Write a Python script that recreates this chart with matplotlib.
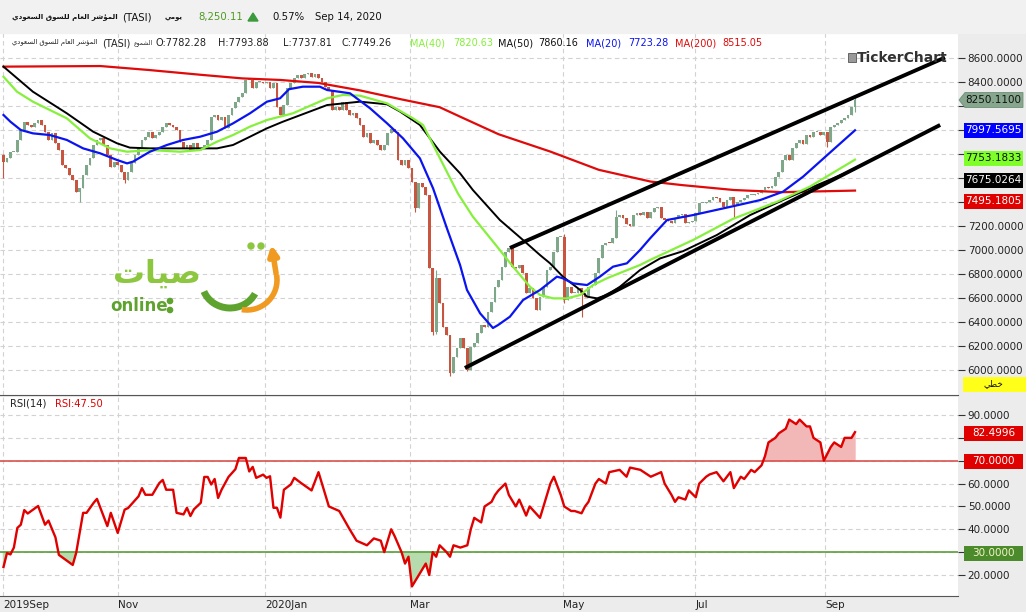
import matplotlib
matplotlib.use('Agg')
import matplotlib.pyplot as plt
from matplotlib.patches import Rectangle, Polygon, Arc, Circle
import numpy as np

W, H = 1026, 612

# daily closes of TASI (mid Sep 2019 .. 14 Sep 2020)
closes = [
    7736, 7764, 7820, 7820, 7917, 8000, 8069, 8042, 8028, 8055,
    8083, 8042, 7986, 7917, 7972, 7889, 7833, 7708, 7680, 7625,
    7583, 7486, 7514, 7625, 7708, 7764, 7875, 7917, 7930, 7875,
    7792, 7694, 7736, 7708, 7653, 7583, 7653, 7722, 7792, 7861,
    7917, 7944, 7986, 7930, 7958, 7986, 8028, 8055, 8042, 8028,
    8000, 7903, 7847, 7875, 7833, 7889, 7833, 7847, 7875, 7917,
    8111, 8125, 8083, 8111, 8014, 8125, 8180, 8236, 8278, 8306,
    8417, 8417, 8347, 8403, 8403, 8389, 8403, 8347, 8389, 8194,
    8125, 8208, 8347, 8389, 8430, 8458, 8430, 8464, 8472, 8444,
    8464, 8430, 8403, 8361, 8333, 8167, 8194, 8167, 8236, 8167,
    8125, 8139, 8097, 8042, 7944, 7972, 7889, 7917, 7875, 7833,
    7875, 7972, 8008, 7980, 7750, 7708, 7750, 7681, 7569, 7347,
    7556, 7528, 7458, 6847, 6319, 6764, 6555, 6361, 6292, 5972,
    6111, 6180, 6264, 6180, 6000, 6194, 6222, 6306, 6375, 6361,
    6486, 6569, 6694, 6750, 6861, 6986, 7014, 6861, 6847, 6875,
    6806, 6639, 6681, 6597, 6500, 6611, 6694, 6833, 6861, 6986,
    7111, 7111, 6583, 6694, 6639, 6640, 6680, 6639, 6611, 6694,
    6708, 6806, 6931, 7042, 7060, 7055, 7100, 7277, 7290, 7270,
    7220, 7200, 7290, 7305, 7290, 7320, 7264, 7319, 7347, 7361,
    7264, 7250, 7240, 7222, 7264, 7291, 7300, 7222, 7230, 7240,
    7305, 7389, 7389, 7403, 7416, 7444, 7430, 7403, 7361, 7416,
    7444, 7375, 7400, 7416, 7430, 7458, 7458, 7465, 7472, 7500,
    7527, 7514, 7530, 7611, 7652, 7750, 7791, 7750, 7847, 7889,
    7916, 7880, 7958, 7944, 7986, 7986, 7958, 7986, 7903, 8027,
    8041, 8055, 8083, 8097, 8125, 8194, 8250.11,
]
first_open = 7790
# visible wicks: bar -> (low, high)
wicks = {0: (7600, 7800), 22: (7400, 7514), 35: (7555, 7653), 119: (7320, 7569),
         124: (6290, 6847), 125: (6300, 6830), 129: (5950, 6292), 134: (5990, 6180),
         162: (6560, 7130), 167: (6440, 6680), 177: (7100, 7330), 211: (7270, 7416),
         238: (7860, 7986), 246: (8150, 8265)}

# moving averages (bar, value)
ma20_bar = [0, 2, 5, 8.5, 13.4, 18.3, 23, 27.9, 32.8, 35.7, 37.4, 42.3, 47.2, 51.9, 56.8,
            61.7, 66.3, 71.2, 76.1, 79.9, 82.5, 86.5, 91.4, 93.5, 100.1, 105.9, 110.8,
            115.4, 120.3, 124.1, 128.1, 131.9, 133.9, 137.7, 141.4, 142.9, 146.3, 150.1,
            155, 159.9, 161.6, 164.5, 168.6, 172.3, 176.1, 180.1, 183.9, 186.8, 191.7,
            199.2, 210.8, 218.6, 225.2, 231, 239.6, 246]
ma20_val = [8125, 8069, 8000, 7972, 7958, 7917, 7847, 7806, 7750, 7722, 7736, 7819, 7875,
            7917, 7944, 7986, 8055, 8139, 8236, 8264, 8340, 8361, 8361, 8333, 8306, 8181,
            8056, 7931, 7764, 7514, 7181, 6875, 6667, 6472, 6350, 6375, 6444, 6583, 6667,
            6778, 6764, 6722, 6708, 6778, 6861, 6889, 7000, 7097, 7250, 7291, 7365, 7416,
            7486, 7611, 7833, 7997.57]
ma40_bar = [0, 3.9, 8.5, 18.3, 25, 30.8, 35.7, 42.3, 51, 56.8, 61.7, 66.3, 71.2, 76.1,
            83.6, 93.5, 98.1, 103, 110.8, 118.3, 121.2, 126.1, 131.3, 135.6, 142.6, 147.2,
            152.1, 155, 158.8, 162.8, 166.6, 170.3, 174.3, 179, 183.9, 186.8, 199.2,
            210.8, 223.5, 232.9, 246]
ma40_val = [8444, 8319, 8236, 8097, 7930, 7847, 7819, 7833, 7819, 7833, 7903, 7958, 8028,
            8083, 8139, 8264, 8292, 8286, 8222, 8097, 8042, 7764, 7470, 7278, 7028, 6861,
            6694, 6625, 6597, 6597, 6625, 6708, 6764, 6819, 6875, 6917, 7083, 7260, 7402,
            7527, 7753.18]
ma50_bar = [0, 8.5, 18.3, 25.9, 32.8, 36.5, 42.3, 51.9, 61.7, 66.3, 71.2, 76.1, 80.7,
            93.5, 103, 110.8, 114.6, 120.3, 126.1, 131.9, 135.6, 143.4, 150.1, 155,
            157.9, 161.6, 166.6, 168.6, 171.5, 174.3, 178.1, 183.9, 189.7, 196.3, 206.1,
            215.7, 225.2, 235, 246]
ma50_val = [8528, 8319, 8139, 7986, 7889, 7853, 7847, 7847, 7847, 7875, 7944, 8014, 8069,
            8208, 8236, 8214, 8153, 8042, 7819, 7639, 7500, 7250, 7083, 6958, 6889, 6778,
            6667, 6611, 6597, 6625, 6694, 6833, 6930, 6990, 7125, 7291, 7416, 7540, 7675.03]
ma200_bar = [0, 28, 42, 57, 69, 80, 91, 103, 115, 126, 132, 143, 158, 172, 187, 196,
             211, 225, 246]
ma200_val = [8528, 8533, 8500, 8460, 8430, 8417, 8392, 8330, 8255, 8190, 8110, 7965,
             7820, 7668, 7570, 7541, 7500, 7482, 7495.18]

# channel lines drawn on the chart (bar, price)
upper_line = ([146.3, 272.0], [7017, 8604])
lower_line = ([133.3, 270.6], [6017, 8042])

# RSI(14) (bar, value)
rsi_pts = [(0, 23.5), (1, 29.6), (2, 29), (3, 32), (4, 40.6), (5, 42), (6, 48.4), (7, 46.9),
           (10, 50.2), (12, 42), (13, 43.8), (15, 36.5), (16, 28.8), (18, 26.6), (20, 24.4),
           (21, 29.7), (23, 47.2), (24, 47.2), (26, 51.5), (27, 53.3), (30, 41.4), (31, 47.2),
           (33, 38.4), (35, 48.6), (36, 49.3), (39, 54.4), (40, 58), (41, 55.1), (43, 55.1),
           (45, 60.2), (46, 61.6), (47, 57.3), (49, 57.3), (50, 47.2), (52, 46.5), (53, 49.4),
           (54, 45.8), (55, 48.7), (57, 51.6), (58, 62.9), (59, 62.9), (60, 59.6), (61, 62),
           (62, 53.7), (63, 57.3), (65, 62.9), (67, 66.3), (68, 71.2), (70, 71.2), (71, 65.3),
           (72, 67.3), (73, 62.5), (75, 63.9), (76, 62.5), (77, 63.2), (78, 49.4), (79, 49.4),
           (80, 45.1), (81, 57.3), (83, 59.6), (84, 62.5), (86, 60.2), (89, 57), (91, 65),
           (93, 55), (94, 50), (97, 48), (100, 40), (102, 35), (105, 33), (107, 36), (109, 35),
           (110, 30), (112, 40), (113, 37), (115, 30), (116, 25), (117, 28), (118, 15),
           (120, 20), (122, 25), (123, 20), (124, 30), (125, 28), (126, 33), (128, 30),
           (129, 28), (130, 33), (132, 32), (134, 33), (135, 40), (136, 45), (138, 43),
           (139, 50), (141, 52), (142, 55), (143, 57), (145, 60), (146, 55), (148, 50),
           (149, 53), (151, 46), (152, 50), (155, 45), (156, 50), (158, 60), (159, 63),
           (161, 55), (162, 50), (164, 48), (165, 48), (167, 47), (168, 50), (169, 52),
           (171, 60), (172, 62), (174, 60), (175, 65), (178, 66), (180, 63), (181, 67),
           (184, 66), (187, 63), (190, 65), (191, 60), (193, 55), (194, 52), (195, 54),
           (197, 53), (198, 57), (200, 54), (201, 60), (203, 63), (204, 64), (206, 65),
           (207, 63), (208, 61), (210, 65), (211, 58), (213, 63), (214, 62), (216, 66),
           (217, 65), (219, 68), (220, 72), (221, 78), (223, 80), (224, 82), (226, 84),
           (227, 88), (229, 86), (230, 88), (232, 85), (233, 85), (234, 80), (236, 78),
           (237, 70), (239, 76), (240, 78), (242, 76), (243, 80), (245, 80), (246, 82.5)]

month_pos = [0, 33.1, 75.6, 117.5, 161.7, 199.8, 237.4]
month_lbl = ['2019Sep', 'Nov', '2020Jan', 'Mar', 'May', 'Jul', 'Sep']

UP, DN = '#7fa88a', '#c8553f'
C20, C40, C50, C200 = '#0a14f0', '#86f03c', '#000000', '#e00a0a'


# matplotlib does no arabic shaping, so pick the contextual forms by hand
FORMS = {
    'ا': (0xFE8D, 0xFE8E, None, None), 'ل': (0xFEDD, 0xFEDE, 0xFEDF, 0xFEE0),
    'م': (0xFEE1, 0xFEE2, 0xFEE3, 0xFEE4), 'ؤ': (0xFE85, 0xFE86, None, None),
    'ش': (0xFEB5, 0xFEB6, 0xFEB7, 0xFEB8), 'ر': (0xFEAD, 0xFEAE, None, None),
    'ع': (0xFEC9, 0xFECA, 0xFECB, 0xFECC), 'س': (0xFEB1, 0xFEB2, 0xFEB3, 0xFEB4),
    'و': (0xFEED, 0xFEEE, None, None), 'ق': (0xFED5, 0xFED6, 0xFED7, 0xFED8),
    'د': (0xFEA9, 0xFEAA, None, None), 'ي': (0xFEF1, 0xFEF2, 0xFEF3, 0xFEF4),
    'خ': (0xFEA5, 0xFEA6, 0xFEA7, 0xFEA8), 'ط': (0xFEC1, 0xFEC2, 0xFEC3, 0xFEC4),
    'ت': (0xFE95, 0xFE96, 0xFE97, 0xFE98), 'ص': (0xFEB9, 0xFEBA, 0xFEBB, 0xFEBC),
}


def ar(s):
    out = []
    for k, ch in enumerate(s):
        if ch not in FORMS:
            out.append(ch)
            continue
        f = FORMS[ch]
        prev = s[k - 1] if k > 0 else None
        nxt = s[k + 1] if k + 1 < len(s) else None
        jp = prev in FORMS and FORMS[prev][2] is not None
        jn = nxt in FORMS and f[2] is not None
        code = f[3] if (jp and jn) else f[1] if jp else f[2] if jn else f[0]
        out.append(chr(code))
    return ''.join(reversed(out))


N = len(closes)
idx = np.arange(N)
c = np.array(closes, float)
o = np.array([first_open] + closes[:-1], float)
lo = np.minimum(o, c)
hi = np.maximum(o, c)
for k, (l, h) in wicks.items():
    lo[k] = min(lo[k], l)
    hi[k] = max(hi[k], h)
cols = np.where(c >= o, UP, DN)

step = 851.5 / (N - 1)           # pixels per bar
xl = (-3.5 / step, (958 - 3.5) / step)

fig = plt.figure(figsize=(W / 100, H / 100), dpi=100, facecolor='#ececec')
axp = fig.add_axes([0, (H - 395) / H, 958 / W, (395 - 33) / H])
axr = fig.add_axes([0, (H - 596) / H, 958 / W, (596 - 397) / H])

grid_kw = dict(color='#d2d2d2', lw=0.8, ls=(0, (4, 3)))
for ax in (axp, axr):
    ax.set_xlim(*xl)
    ax.set_facecolor('white')
    ax.set_axisbelow(True)
    ax.grid(True, **grid_kw)
    ax.yaxis.tick_right()
    for sp in ('top', 'left', 'right'):
        ax.spines[sp].set_visible(False)
    ax.spines['bottom'].set_color('#555555')
    ax.tick_params(axis='y', length=5, width=0.8, color='#333333', labelsize=7.5,
                   labelcolor='#222222', pad=2)
    ax.set_xticks(month_pos)

# price panel; labels sitting under the value tags are left blank
axp.set_ylim(6000 - 25 / 0.12, 6000 + 337 / 0.12)
pt = list(range(6000, 8601, 200))
axp.set_yticks(pt, ['' if v in (7400, 7600, 7800, 8000, 8200) else f'{v:.4f}' for v in pt])
axp.tick_params(axis='x', length=0, labelbottom=False)
axp.vlines(idx, lo, hi, colors=cols, lw=0.8, zorder=2)
axp.bar(idx, np.maximum(np.abs(c - o), 8), bottom=np.minimum(o, c), width=0.8,
        color=cols, edgecolor='none', zorder=3)
axp.plot(ma200_bar, ma200_val, color=C200, lw=1.6, zorder=4)
axp.plot(ma50_bar, ma50_val, color=C50, lw=1.4, zorder=4)
axp.plot(ma40_bar, ma40_val, color=C40, lw=1.6, zorder=4)
axp.plot(ma20_bar, ma20_val, color=C20, lw=1.6, zorder=4)
axp.plot(*upper_line, color='black', lw=2.8, solid_capstyle='butt', zorder=5)
axp.plot(*lower_line, color='black', lw=2.8, solid_capstyle='butt', zorder=5)

# rsi panel
rb = np.array([p[0] for p in rsi_pts], float)
rv = np.array([p[1] for p in rsi_pts], float)
axr.set_ylim(20 - 21 / 2.2857, 20 + 178 / 2.2857)
rt = list(range(20, 91, 10))
axr.set_yticks(rt, ['' if v in (30, 70, 80) else f'{v:.4f}' for v in rt])
axr.axhline(70, color='#d9534f', lw=1.2, zorder=2)
axr.axhline(30, color='#5a9e3a', lw=1.2, zorder=2)
axr.fill_between(rb, rv, 70, where=rv > 70, interpolate=True, color='#f2b8b8', zorder=1)
axr.fill_between(rb, rv, 30, where=rv < 30, interpolate=True, color='#b6dcae', zorder=1)
axr.plot(rb, rv, color='#e00000', lw=1.7, zorder=3)
axr.set_xticks(month_pos, month_lbl)
axr.tick_params(axis='x', length=0, pad=3, labelsize=7.5, labelcolor='#222222')
for t in axr.get_xticklabels():
    t.set_ha('left')

# overlay in pixel coordinates for the chrome around the plots
ov = fig.add_axes([0, 0, 1, 1])
ov.set_xlim(0, W)
ov.set_ylim(H, 0)
ov.axis('off')
ov.patch.set_alpha(0)
rend = fig.canvas.get_renderer()

AF = 'DejaVu Sans'


def artext(x, y, s, width, **kw):
    # arabic text squeezed to the width it takes in the reference
    t = ov.text(x, y, ar(s), family=AF, va='center', **kw)
    bw = t.get_window_extent(renderer=rend).width
    t.set_fontsize(t.get_fontsize() * width / bw)
    return t


ov.add_patch(Rectangle((0, 0), W, 33, color='#f1f1f1', zorder=0))
artext(12, 17, 'المؤشر العام للسوق السعودي', 105, fontsize=8, weight='bold', color='#111111')
ov.text(122, 17, '(TASI)', fontsize=7.3, va='center', color='#111111')
artext(165, 17, 'يومي', 18, fontsize=8, weight='bold', color='#111111')
ov.text(198, 17, '8,250.11', fontsize=7.3, va='center', color='#4e9a22')
ov.add_patch(Polygon([(248, 21), (258, 21), (253, 13)], color='#3c9a3c'))
ov.text(272, 17, '0.57%', fontsize=7.3, va='center', color='#111111')
ov.text(315, 17, 'Sep 14, 2020', fontsize=7.3, va='center', color='#111111')

iy = 43
artext(12, iy, 'المؤشر العام للسوق السعودي', 86, fontsize=7, color='#222222')
ov.text(102, iy, '(TASI)', fontsize=7, va='center', color='#222222')
artext(134, iy, 'الشموع', 19, fontsize=7, color='#222222')
for xx, s in [(155, 'O:7782.28'), (218, 'H:7793.88'), (283, 'L:7737.81'), (342, 'C:7749.26')]:
    ov.text(xx, iy, s, fontsize=7, va='center', color='#222222')
for xx, s, col in [(410, 'MA(40)', C40), (453, '7820.63', C40), (498, 'MA(50)', '#111111'),
                   (538, '7860.16', '#111111'), (586, 'MA(20)', C20), (628, '7723.28', C20),
                   (675, 'MA(200)', C200), (722, '8515.05', C200)]:
    ov.text(xx, iy, s, fontsize=7, va='center', color=col)

ov.text(10, 404, 'RSI(14)', fontsize=7.2, va='center', color='#222222')
ov.text(55, 404, 'RSI:47.50', fontsize=7.2, va='center', color='#e00000')

# TickerChart mark
ov.add_patch(Rectangle((848, 53), 8, 9, fc='#9a9a9a', ec='#555555', lw=0.6))
ov.text(857, 58, 'TickerChart', fontsize=10, weight='bold', va='center', color='#333333')


def tag(y, s, fc, tc, point=False):
    if point:
        ov.add_patch(Polygon([(959, y), (965, y - 7.5), (1023, y - 7.5), (1023, y + 7.5),
                              (965, y + 7.5)], fc=fc, ec='#6f8f76', lw=0.6, zorder=5))
    else:
        ov.add_patch(Rectangle((964, y - 7.5), 59, 15, fc=fc, ec='none', zorder=5))
    ov.text(993.5, y, s, fontsize=7.5, ha='center', va='center', color=tc, zorder=6)


tag(100, '8250.1100', '#86a68d', '#111111', point=True)
tag(130, '7997.5695', '#0000ff', 'white')
tag(158, '7753.1833', '#7fff2a', '#111111')
tag(180, '7675.0264', '#000000', 'white')
tag(201, '7495.1805', '#e00000', 'white')
ov.add_patch(Rectangle((963, 377), 63, 15, fc='#ffff1a', ec='none', zorder=5))
t = artext(984, 384, 'خطي', 20, fontsize=8, color='#111111', zorder=6)
tag(433, '82.4996', '#e00000', 'white')
tag(461, '70.0000', '#e00000', 'white')
tag(553, '30.0000', '#4b8b2b', '#f4f4c8')

# logo
g1, g2, orng = '#8dc63f', '#5ea32e', '#f09a22'
artext(113, 274, 'صيات', 88, fontsize=26, weight='bold', color=g1)
ov.text(110, 306, 'online', fontsize=12, weight='bold', color=g2, va='center')
ov.add_patch(Circle((170, 301), 2.6, color=g2))
ov.add_patch(Circle((170, 310), 2.6, color=g2))
ov.add_patch(Arc((230, 282), 56, 52, theta1=25, theta2=160, color=g2, lw=5))
ov.add_patch(Arc((247, 280), 60, 60, theta1=-10, theta2=100, color=orng, lw=4))
ov.annotate('', xy=(271, 242), xytext=(276.5, 276),
            arrowprops=dict(arrowstyle='-|>', color=orng, lw=4, mutation_scale=14))
ov.add_patch(Circle((251, 246), 3, color=g1))
ov.add_patch(Circle((261, 246), 3, color=g1))

fig.savefig('out.png', dpi=100, facecolor=fig.get_facecolor())
